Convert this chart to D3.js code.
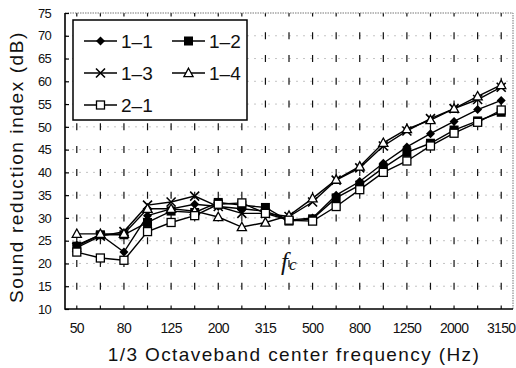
<!DOCTYPE html>
<html>
<head>
<meta charset="utf-8">
<script src="https://cdn.jsdelivr.net/npm/d3@7"></script>
<style>
  body { margin: 0; background: #fff; }
  text { fill: #111; }
</style>
</head>
<body>
<div id="chart"></div>
<script>
"use strict";

// 1/3 octave band centre frequencies (Hz)
const freqs = ["50", "63", "80", "100", "125", "160", "200", "250", "315", "400",
    "500", "630", "800", "1000", "1250", "1600", "2000", "2500", "3150"];
const tickLabels = ["50", "80", "125", "200", "315", "500", "800", "1250", "2000", "3150"];
const yTicks = d3.range(10, 76, 5);

// sound reduction index (dB)
const s11 = [24.0, 26.3, 22.5, 30.5, 32.0, 33.0, 32.5, 32.0, 31.5, 29.5, 30.0, 35.0, 38.0, 42.0, 45.6, 48.5, 51.2, 53.8, 55.8];
const s12 = [23.8, 26.3, 26.3, 29.0, 31.5, 31.2, 33.4, 32.8, 32.3, 29.3, 29.8, 34.4, 37.2, 41.0, 44.4, 46.4, 49.3, 51.3, 53.2];
const s13 = [23.5, 26.0, 27.0, 32.8, 33.5, 34.8, 32.5, 31.0, 31.0, 30.3, 33.5, 38.3, 41.0, 45.8, 49.1, 51.8, 54.0, 56.0, 58.7];
const s14 = [26.5, 26.5, 26.5, 32.0, 32.0, 31.5, 30.2, 28.0, 29.0, 30.5, 34.3, 38.4, 41.3, 46.5, 49.5, 51.5, 54.0, 56.7, 59.2];
const s21 = [22.5, 21.2, 20.7, 27.0, 29.0, 30.5, 33.0, 33.3, 31.0, 29.5, 29.3, 32.5, 36.2, 40.0, 42.5, 45.8, 48.6, 51.0, 53.7];

const series = [
    {name: "1-1", values: s11, marker: "diamond"},
    {name: "1-2", values: s12, marker: "fsquare"},
    {name: "1-3", values: s13, marker: "cross"},
    {name: "1-4", values: s14, marker: "triangle"},
    {name: "2-1", values: s21, marker: "osquare"}
];

const width = 516,
    height = 368;
const plotL = 65, plotR = 513, plotT = 13, plotB = 309;

const svg = d3.select("#chart").append("svg")
    .attr("width", width)
    .attr("height", height);

const x = d3.scaleBand()
    .domain(freqs)
    .range([plotL, plotR]);

const y = d3.scaleLinear()
    .domain([10, 75])
    .range([plotB, plotT]);

const cx = (f) => x(f) + x.bandwidth() / 2;

// grid
const step = y(70) - y(75);
svg.append("g")
    .selectAll("line")
    .data(yTicks.slice(1, -1))
    .join("line")
    .attr("x1", plotL).attr("x2", plotR)
    .attr("y1", (d) => y(d)).attr("y2", (d) => y(d))
    .attr("stroke", "#aaa")
    .attr("stroke-width", 0.7)
    .attr("stroke-dasharray", "2,5");

svg.append("g")
    .selectAll("line")
    .data(freqs)
    .join("line")
    .attr("x1", cx).attr("x2", cx)
    .attr("y1", plotT).attr("y2", plotB)
    .attr("stroke", "#111")
    .attr("stroke-width", 1.2)
    .attr("stroke-dasharray", `7,${step - 7}`)
    .attr("stroke-dashoffset", 3.5);

// frame
svg.append("path")
    .attr("d", `M${plotL},${plotT}H${plotR}V${plotB}`)
    .attr("fill", "none")
    .attr("stroke", "#777")
    .attr("stroke-width", 1)
    .attr("stroke-dasharray", "1.5,1");

svg.append("path")
    .attr("d", `M${plotL},${plotT}V${plotB}H${plotR}`)
    .attr("fill", "none")
    .attr("stroke", "#000")
    .attr("stroke-width", 1.6);

// y axis
const yAxis = svg.append("g")
    .attr("transform", `translate(${plotL},0)`)
    .call(d3.axisLeft(y).tickValues(yTicks).tickSize(-4).tickPadding(14));
yAxis.select(".domain").remove();
yAxis.selectAll("line").attr("stroke", "#000").attr("stroke-width", 1.2);
yAxis.selectAll("text")
    .attr("font-family", "Arial, 'Liberation Sans', sans-serif")
    .attr("font-size", 13)
    .attr("letter-spacing", -0.7)
    .attr("fill", "#111");

// x axis
const xAxis = svg.append("g")
    .attr("transform", `translate(0,${plotB})`)
    .call(d3.axisBottom(x).tickValues(tickLabels).tickSize(0).tickPadding(14));
xAxis.select(".domain").remove();
xAxis.selectAll("text")
    .attr("font-family", "Arial, 'Liberation Sans', sans-serif")
    .attr("font-size", 14)
    .attr("letter-spacing", -0.7)
    .attr("fill", "#111");

// titles
svg.append("text")
    .attr("transform", `translate(23,167) rotate(-90)`)
    .attr("text-anchor", "middle")
    .attr("font-family", "Arial, 'Liberation Sans', sans-serif")
    .attr("font-size", 19)
    .attr("letter-spacing", 1.6)
    .text("Sound reduction index (dB)");

svg.append("text")
    .attr("x", 294)
    .attr("y", 361)
    .attr("text-anchor", "middle")
    .attr("font-family", "Arial, 'Liberation Sans', sans-serif")
    .attr("font-size", 19)
    .attr("letter-spacing", 1.4)
    .text("1/3 Octaveband center frequency (Hz)");

const fc = svg.append("text")
    .attr("x", 281)
    .attr("y", 270)
    .attr("font-family", "'Liberation Serif', 'DejaVu Serif', serif")
    .attr("font-style", "italic");
fc.append("tspan").attr("font-size", 25).text("f");
fc.append("tspan").attr("font-size", 17).attr("dx", 1).text("c");

// markers
const drawMarker = function(g, type) {
    if (type === "diamond") {
        g.append("path").attr("d", "M0,-4.5L4.5,0L0,4.5L-4.5,0Z").attr("fill", "#000");
    } else if (type === "fsquare") {
        g.append("rect").attr("x", -4.5).attr("y", -4.5).attr("width", 9).attr("height", 9).attr("fill", "#000");
    } else if (type === "cross") {
        g.append("path").attr("d", "M-4.5,-4.5L4.5,4.5M-4.5,4.5L4.5,-4.5")
            .attr("stroke", "#000").attr("stroke-width", 1.6);
    } else if (type === "triangle") {
        g.append("path").attr("d", "M0,-4.8L4.6,3.6H-4.6Z")
            .attr("fill", "#fff").attr("stroke", "#000").attr("stroke-width", 1.3);
    } else {
        g.append("rect").attr("x", -4).attr("y", -4).attr("width", 8).attr("height", 8)
            .attr("fill", "#fff").attr("stroke", "#000").attr("stroke-width", 1.3);
    }
};

const line = d3.line()
    .x((d, i) => cx(freqs[i]))
    .y((d) => y(d));

series.forEach((s) => {
    svg.append("path")
        .datum(s.values)
        .attr("d", line)
        .attr("fill", "none")
        .attr("stroke", "#000")
        .attr("stroke-width", 1.4);
});

series.forEach((s) => {
    svg.append("g")
        .selectAll("g")
        .data(s.values)
        .join("g")
        .attr("transform", (d, i) => `translate(${cx(freqs[i])},${y(d)})`)
        .each(function() { drawMarker(d3.select(this), s.marker); });
});

// legend
const legend = svg.append("g");
legend.append("rect")
    .attr("x", 73).attr("y", 20)
    .attr("width", 174).attr("height", 100)
    .attr("fill", "#fff")
    .attr("stroke", "#000")
    .attr("stroke-width", 1.5);

const legendPos = [[84, 41], [172, 41], [84, 73], [172, 73], [84, 105]];
series.forEach((s, i) => {
    const [lx, ly] = legendPos[i];
    const item = legend.append("g").attr("transform", `translate(${lx},${ly})`);
    item.append("line")
        .attr("x1", 0).attr("x2", 33)
        .attr("stroke", "#000").attr("stroke-width", 1.4);
    drawMarker(item.append("g").attr("transform", "translate(16.5,0)"), s.marker);
    item.append("text")
        .attr("x", 37).attr("y", 7)
        .attr("font-family", "Arial, 'Liberation Sans', sans-serif")
        .attr("font-size", 19)
        .text(s.name.replace("-", "\u2013"));
});
</script>
</body>
</html>
